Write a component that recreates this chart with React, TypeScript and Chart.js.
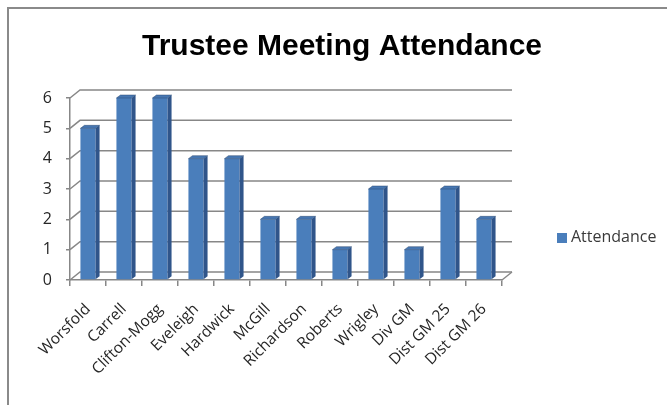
import React, { useEffect, useRef } from "react";
import { Chart, registerables } from "chart.js";

Chart.register(...registerables);

const chartTitle = "Trustee Meeting Attendance";
const seriesName = "Attendance";
const categories = [
  "Worsfold",
  "Carrell",
  "Clifton-Mogg",
  "Eveleigh",
  "Hardwick",
  "McGill",
  "Richardson",
  "Roberts",
  "Wrigley",
  "Div GM",
  "Dist GM 25",
  "Dist GM 26",
];
const attendance = [5, 6, 6, 4, 4, 2, 2, 1, 3, 1, 3, 2];
const yMin = 0;
const yMax = 6;
const yStep = 1;

const W = 667;
const H = 405;
const DX = 10;
const DY = 8;
const BDX = 4;
const BDY = 3;
const GRID = "#878787";
const FRONT = "#4a7ebb";
const SIDE = "#30558a";
const TOP = "#4777b2";
const TEXT = "#262626";

const decoPlugin = {
  id: "deco",
  beforeDraw(chart: any) {
    const ctx = chart.ctx;
    ctx.save();
    ctx.fillStyle = "#ffffff";
    ctx.fillRect(0, 0, W, H);
    ctx.strokeStyle = "#8a8a8a";
    ctx.lineWidth = 2;
    ctx.beginPath();
    ctx.moveTo(8, H);
    ctx.lineTo(8, 8);
    ctx.lineTo(W, 8);
    ctx.stroke();
    ctx.fillStyle = "#000000";
    ctx.font = 'bold 30px "Liberation Sans"';
    ctx.textAlign = "center";
    ctx.textBaseline = "alphabetic";
    ctx.fillText(chartTitle, 342, 55);
    ctx.fillStyle = FRONT;
    ctx.fillRect(557, 233, 10, 10);
    ctx.fillStyle = "#3a3a3a";
    ctx.font = '16px "Open Sans"';
    ctx.textAlign = "left";
    ctx.textBaseline = "middle";
    ctx.fillText(seriesName, 571, 237);
    ctx.restore();
  },
  beforeDatasetsDraw(chart: any) {
    const ctx = chart.ctx;
    const ys = chart.scales.y;
    const { left, right, bottom } = chart.chartArea;
    ctx.save();
    ctx.strokeStyle = GRID;
    ctx.lineWidth = 1.5;
    for (let v = yMin; v <= yMax; v += yStep) {
      const y = ys.getPixelForValue(v);
      ctx.beginPath();
      ctx.moveTo(left, y);
      ctx.lineTo(left + DX, y - DY);
      ctx.lineTo(right + DX, y - DY);
      ctx.stroke();
    }
    ctx.beginPath();
    ctx.moveTo(right, bottom);
    ctx.lineTo(right + DX, bottom - DY);
    ctx.stroke();
    ctx.restore();
  },
  afterDatasetsDraw(chart: any) {
    const ctx = chart.ctx;
    const meta = chart.getDatasetMeta(0);
    ctx.save();
    meta.data.forEach((bar: any) => {
      const x1 = bar.x - bar.width / 2;
      const x2 = bar.x + bar.width / 2;
      const yt = bar.y;
      const yb = bar.base;
      ctx.fillStyle = SIDE;
      ctx.beginPath();
      ctx.moveTo(x2, yt);
      ctx.lineTo(x2 + BDX, yt - BDY);
      ctx.lineTo(x2 + BDX, yb - BDY);
      ctx.lineTo(x2, yb);
      ctx.closePath();
      ctx.fill();
      ctx.fillStyle = TOP;
      ctx.beginPath();
      ctx.moveTo(x1, yt);
      ctx.lineTo(x1 + BDX, yt - BDY);
      ctx.lineTo(x2 + BDX, yt - BDY);
      ctx.lineTo(x2, yt);
      ctx.closePath();
      ctx.fill();
      ctx.strokeStyle = "rgba(40,70,110,0.6)";
      ctx.lineWidth = 0.8;
      ctx.stroke();
    });
    ctx.restore();
  },
};

export default function App() {
  const ref = useRef<HTMLCanvasElement | null>(null);
  useEffect(() => {
    if (!ref.current) return;
    const chart = new Chart(ref.current, {
      type: "bar",
      data: {
        labels: categories,
        datasets: [
          {
            label: seriesName,
            data: attendance,
            backgroundColor: FRONT,
            borderWidth: 0,
            categoryPercentage: 1,
            barPercentage: 0.42,
          },
        ],
      },
      options: {
        responsive: false,
        animation: false,
        layout: { padding: { left: 0, top: 98, right: 165, bottom: 0 } },
        plugins: {
          legend: { display: false },
          title: { display: false },
          tooltip: { enabled: false },
        },
        scales: {
          x: {
            grid: {
              display: true,
              drawOnChartArea: false,
              drawTicks: true,
              tickLength: 6,
              color: GRID,
              lineWidth: 1.5,
            },
            border: { display: true, color: GRID, width: 1.5 },
            ticks: {
              minRotation: 45,
              maxRotation: 45,
              autoSkip: false,
              padding: 14,
              color: TEXT,
              font: { family: "Open Sans", size: 15.5 },
            },
            afterFit: (s: any) => {
              s.height = 125;
            },
          },
          y: {
            min: yMin,
            max: yMax,
            grid: {
              display: true,
              drawOnChartArea: false,
              drawTicks: true,
              tickLength: 4,
              color: GRID,
              lineWidth: 1.5,
            },
            border: { display: true, color: GRID, width: 1.5 },
            ticks: {
              stepSize: yStep,
              padding: 14,
              color: TEXT,
              font: { family: "Open Sans", size: 16 },
            },
            afterFit: (s: any) => {
              s.width = 70;
            },
          },
        },
      },
      plugins: [decoPlugin],
    });
    return () => chart.destroy();
  }, []);
  return (
    <div style={{ position: "absolute", left: 0, top: 0, width: W, height: H }}>
      <canvas ref={ref} width={W} height={H} />
    </div>
  );
}
